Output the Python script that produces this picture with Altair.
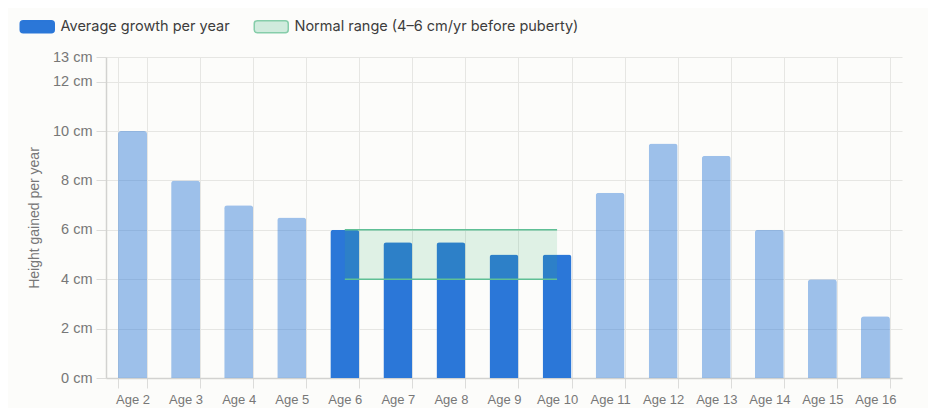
import altair as alt
import pandas as pd

ages = ["Age 2", "Age 3", "Age 4", "Age 5", "Age 6", "Age 7", "Age 8", "Age 9",
        "Age 10", "Age 11", "Age 12", "Age 13", "Age 14", "Age 15", "Age 16"]
growth = [10, 8, 7, 6.5, 6, 5.5, 5.5, 5, 5, 7.5, 9.5, 9, 6, 4, 2.5]
highlight = ["Age 6", "Age 7", "Age 8", "Age 9", "Age 10"]

range_start = "Age 6"
range_end = "Age 10"
range_low = 4
range_high = 6

series_names = ["Average growth per year", "Normal range (4–6 cm/yr before puberty)"]
series_fill = ["#2b77d8", "#d0ebdd"]
series_stroke = ["#2b77d8", "#86cdaa"]

y_ticks = [0, 2, 4, 6, 8, 10, 12, 13]

BLUE = "#2b77d8"
GREEN = "#3cb371"
GREEN_LINE = "#5fbf95"

bars_df = pd.DataFrame({"age": ages, "growth": growth,
                        "hl": [a in highlight for a in ages]})
band_df = pd.DataFrame({"start": [range_start], "end": [range_end],
                        "low": [range_low], "high": [range_high]})
lines_df = pd.DataFrame({"start": [range_start, range_start],
                         "end": [range_end, range_end],
                         "y": [range_low, range_high]})
legend_df = pd.DataFrame({"series": series_names})

x_scale = alt.Scale(domain=ages, paddingInner=0.454, paddingOuter=0.227)
y_scale = alt.Scale(domain=[0, 13], nice=False)

x_axis = alt.Axis(title=None, labelAngle=0, tickBand="extent", grid=True,
                  tickSize=10, labelPadding=5, labelFont="Liberation Sans",
                  labelFontSize=13, labelColor="#777777", gridColor="#e6e6e3",
                  tickColor="#dcdcda", domainColor="#d2d2d0", domainWidth=1.5)
y_axis = alt.Axis(values=y_ticks, labelExpr="datum.value + ' cm'",
                  title="Height gained per year", tickSize=10, labelPadding=4,
                  labelFont="Liberation Sans", labelFontSize=14.5,
                  labelColor="#777777", titleFont="Liberation Sans",
                  titleFontSize=14, titleFontWeight="normal", titleColor="#777777",
                  titlePadding=11, gridColor="#e6e6e3", tickColor="#dcdcda",
                  domainColor="#d2d2d0", domainWidth=1.5)

bars = alt.Chart(bars_df).mark_bar(cornerRadiusTopLeft=3, cornerRadiusTopRight=3).encode(
    x=alt.X("age:N", scale=x_scale, axis=x_axis, sort=ages),
    y=alt.Y("growth:Q", scale=y_scale, axis=y_axis),
    fill=alt.value(BLUE),
    fillOpacity=alt.condition("datum.hl", alt.value(1.0), alt.value(0.45)),
)

band = alt.Chart(band_df).mark_rect(fill=GREEN, fillOpacity=0.15).encode(
    x=alt.X("start:N", bandPosition=0.5, sort=ages),
    x2=alt.X2("end", bandPosition=0.5),
    y=alt.Y("low:Q"),
    y2="high:Q",
)

lines = alt.Chart(lines_df).mark_rule(color=GREEN_LINE, strokeWidth=1.5).encode(
    x=alt.X("start:N", bandPosition=0.5, sort=ages),
    x2=alt.X2("end", bandPosition=0.5),
    y=alt.Y("y:Q"),
)

rr = ("M-2.333,-1 H2.333 A0.5,0.5 0 0 1 2.833,-0.5 V0.5 "
      "A0.5,0.5 0 0 1 2.333,1 H-2.333 A0.5,0.5 0 0 1 -2.833,0.5 "
      "V-0.5 A0.5,0.5 0 0 1 -2.333,-1 Z")
leg = alt.Legend(orient="none", legendX=-76, legendY=-38, direction="horizontal",
                 title=None, symbolType=rr, symbolSize=144, symbolStrokeWidth=1.5,
                 symbolOpacity=1, labelFont="Inter", labelFontSize=14.5,
                 labelColor="#3d3d3d", labelOffset=16, columnPadding=21,
                 padding=0, labelLimit=400)

legend_layer = alt.Chart(legend_df).mark_point(opacity=0, filled=True).encode(
    fill=alt.Fill("series:N", scale=alt.Scale(domain=series_names, range=series_fill),
                  legend=leg),
    stroke=alt.Stroke("series:N", scale=alt.Scale(domain=series_names, range=series_stroke),
                      legend=leg),
)

chart = alt.layer(bars, band, lines, legend_layer).properties(
    width=796, height=321,
    autosize=alt.AutoSizeParams(type="none"),
    padding={"left": 98, "top": 49, "right": 26, "bottom": 30},
    background="#fcfcfa",
).configure_view(stroke=None)

chart.save("out.html", embed_options={"renderer": "svg", "actions": False})
